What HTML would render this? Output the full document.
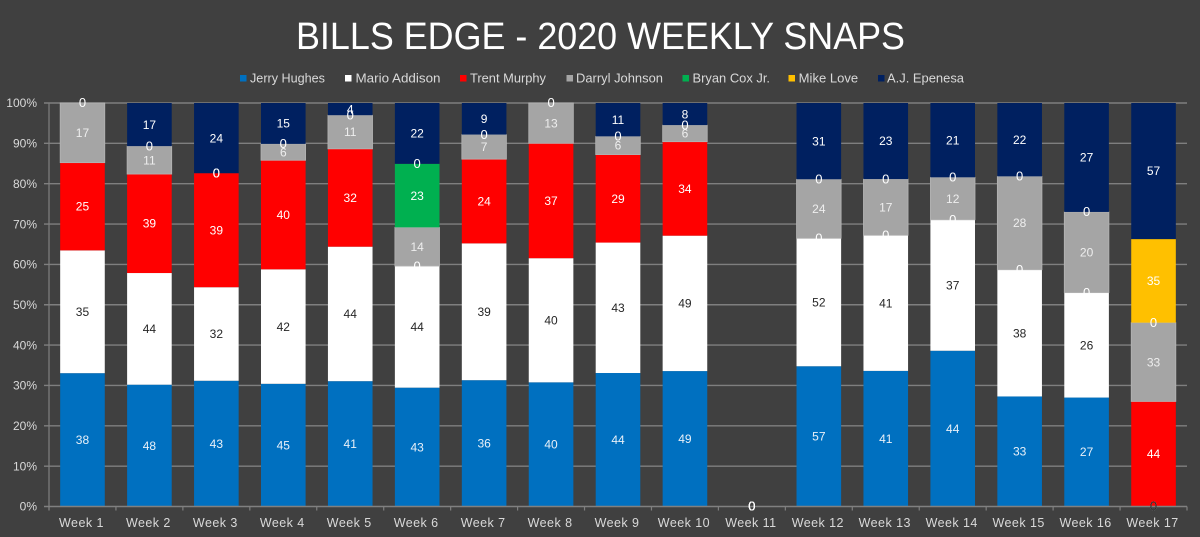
<!DOCTYPE html>
<html lang="en">
<head>
<meta charset="utf-8">
<title>Bills Edge - 2020 Weekly Snaps</title>
<style>
html,body{margin:0;padding:0;background:#404040;}
svg{display:block;font-family:"Liberation Sans",Arial,sans-serif;}
</style>
</head>
<body>
<svg id="chart" xmlns="http://www.w3.org/2000/svg" width="1200" height="537" viewBox="0 0 1200 537">
  <rect x="0" y="0" width="1200" height="537" fill="#404040"/>
  <text x="296" y="49" font-size="38" fill="#ffffff" textLength="609" lengthAdjust="spacingAndGlyphs">BILLS EDGE - 2020 WEEKLY SNAPS</text>
  <g font-size="12.5" fill="#d9d9d9">
    <g><rect x="240" y="75" width="6.5" height="6.5" fill="#0070c0"/><text x="250" y="82.5" textLength="75" lengthAdjust="spacingAndGlyphs">Jerry Hughes</text></g>
    <g><rect x="345" y="75" width="6.5" height="6.5" fill="#ffffff"/><text x="355.5" y="82.5" textLength="85" lengthAdjust="spacingAndGlyphs">Mario Addison</text></g>
    <g><rect x="460" y="75" width="6.5" height="6.5" fill="#ff0000"/><text x="470" y="82.5" textLength="76" lengthAdjust="spacingAndGlyphs">Trent Murphy</text></g>
    <g><rect x="566.5" y="75" width="6.5" height="6.5" fill="#a5a5a5"/><text x="576" y="82.5" textLength="87" lengthAdjust="spacingAndGlyphs">Darryl Johnson</text></g>
    <g><rect x="682.5" y="75" width="6.5" height="6.5" fill="#00b050"/><text x="692.5" y="82.5" textLength="77.5" lengthAdjust="spacingAndGlyphs">Bryan Cox Jr.</text></g>
    <g><rect x="788.5" y="75" width="6.5" height="6.5" fill="#ffc000"/><text x="798.7" y="82.5" textLength="59.5" lengthAdjust="spacingAndGlyphs">Mike Love</text></g>
    <g><rect x="878" y="75" width="6.5" height="6.5" fill="#002060"/><text x="887" y="82.5" textLength="77" lengthAdjust="spacingAndGlyphs">A.J. Epenesa</text></g>
  </g>
  <g id="grid"></g>
  <g id="bars"></g>
  <g id="axes"></g>
  <g id="labels"></g>
</svg>
<script>
const weeks = ["Week 1","Week 2","Week 3","Week 4","Week 5","Week 6","Week 7","Week 8","Week 9","Week 10","Week 11","Week 12","Week 13","Week 14","Week 15","Week 16","Week 17"];
const percentTicks = [0,10,20,30,40,50,60,70,80,90,100];
const jerryHughes   = [38,48,43,45,41,43,36,40,44,49,0,57,41,44,33,27,0];
const marioAddison  = [35,44,32,42,44,44,39,40,43,49,0,52,41,37,38,26,0];
const trentMurphy   = [25,39,39,40,32,0,24,37,29,34,0,0,0,0,0,0,44];
const darrylJohnson = [17,11,0,6,11,14,7,13,6,6,0,24,17,12,28,20,33];
const bryanCox      = [null,0,0,0,0,23,0,null,0,0,0,0,0,0,0,0,0];
const mikeLove      = [null,null,null,null,null,0,null,null,null,null,0,null,null,null,null,null,35];
const ajEpenesa     = [0,17,24,15,4,22,9,0,11,8,0,31,23,21,22,27,57];

const seriesNames  = ["jerry-hughes","mario-addison","trent-murphy","darryl-johnson","bryan-cox-jr","mike-love","aj-epenesa"];
const seriesValues = [jerryHughes,marioAddison,trentMurphy,darrylJohnson,bryanCox,mikeLove,ajEpenesa];
const seriesFills  = ["#0070c0","#ffffff","#ff0000","#a5a5a5","#00b050","#ffc000","#002060"];
const labelFills   = ["#e8f0f8","#262626","#ffffff","#eeeeee","#ffffff","#ffffff","#ffffff"];

const NS = "http://www.w3.org/2000/svg";
const plotLeft = 49, plotRight = 1187, plotBase = 506.5, plotTop = 103;
const band = (plotRight - plotLeft) / weeks.length;
const barWidth = 44.6;
function xAxis(i){ return plotLeft + band * (i + 0.5); }
function yAxis(p){ return plotBase - (plotBase - plotTop) * p / 100; }
function make(tag, attrs, parent){
  const el = document.createElementNS(NS, tag);
  for (const k in attrs) el.setAttribute(k, attrs[k]);
  parent.appendChild(el);
  return el;
}
const gridG = document.getElementById("grid");
const barsG = document.getElementById("bars");
const axesG = document.getElementById("axes");
const labelsG = document.getElementById("labels");

percentTicks.forEach(function(t){
  const y = yAxis(t);
  if (t > 0) {
    const line = make("line",{x1:plotLeft-5,x2:plotRight,y1:y,y2:y,stroke:"#7f7f7f","stroke-width":1.4},gridG);
    
    
  }
  const lab = make("text",{x:37,y:y+4.2,"text-anchor":"end","font-size":12,fill:"#d9d9d9"},axesG);
  
  
  lab.textContent = t + "%";
});

weeks.forEach(function(w,i){
  const vals = seriesValues.map(function(s){ return s[i] === null ? 0 : s[i]; });
  const total = vals.reduce(function(a,b){ return a+b; },0);
  let cum = 0;
  seriesValues.forEach(function(s,k){
    const v = s[i];
    if (v === null) return;
    const p0 = total ? cum/total*100 : 0;
    const p1 = total ? (cum+v)/total*100 : 0;
    cum += v;
    const cx = xAxis(i);
    if (v > 0) {
      const attrs = {x:cx-barWidth/2,y:yAxis(p1),width:barWidth,height:yAxis(p0)-yAxis(p1),fill:seriesFills[k]};
      if (k === 3) { attrs.stroke = "#b4b4b4"; attrs["stroke-width"] = 0.8; }
      const r = make("rect",attrs,barsG);
      
      
    }
    const t = make("text",{x:cx,y:yAxis((p0+p1)/2)+4.2,"text-anchor":"middle","font-size":v===0?13:12,fill:labelFills[k]},labelsG);
    
    
    t.textContent = v;
  });
});

const yLine = make("line",{x1:plotLeft,x2:plotLeft,y1:plotTop,y2:plotBase+4,stroke:"#7f7f7f","stroke-width":1.2},axesG);


const xLine = make("line",{x1:plotLeft-5,x2:plotRight,y1:plotBase,y2:plotBase,stroke:"#808080","stroke-width":1.6},axesG);



for (let i = 0; i <= weeks.length; i++) {
  const x = plotLeft + band * i;
  const tick = make("line",{x1:x,x2:x,y1:plotBase,y2:plotBase+4,stroke:"#7f7f7f","stroke-width":1.2},axesG);
  
  
}
weeks.forEach(function(w,i){
  const lab = make("text",{x:xAxis(i)-1,y:527,"text-anchor":"middle","font-size":12.5,"letter-spacing":0.45,fill:"#d9d9d9"},axesG);
  
  
  lab.textContent = w;
});
</script>
</body>
</html>
